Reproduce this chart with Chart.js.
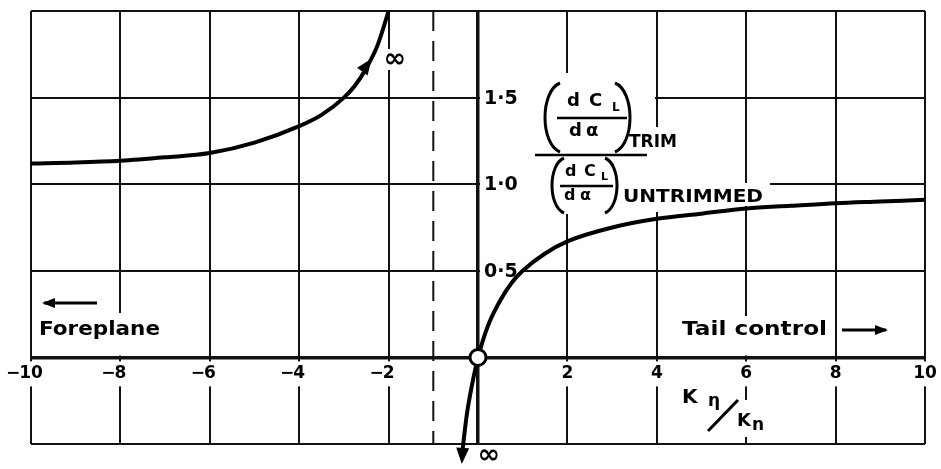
<!DOCTYPE html>
<html>
<head>
<meta charset="utf-8">
<script src="https://cdn.jsdelivr.net/npm/chart.js@4.4.1/dist/chart.umd.min.js"></script>
<style>
  html, body { margin: 0; padding: 0; background: #fff; }
  #wrap { width: 941px; height: 469px; }
</style>
</head>
<body>
<div id="wrap"><canvas id="c"></canvas></div>
<script>
// Axis ticks
const xTickValues = [-10, -8, -6, -4, -2, 0, 2, 4, 6, 8, 10];
const xTickLabels = ['−10', '−8', '−6', '−4', '−2', '', '2', '4', '6', '8', '10'];
const yTickValues = [0.5, 1.0, 1.5];
const yTickLabels = ['0·5', '1·0', '1·5'];

// Foreplane branch (K_eta/K_n below the asymptote)
const foreplaneK     = [-10, -9, -8, -7, -6, -5, -4, -3.5, -3, -2.75, -2.5, -2.25, -2];
const foreplaneRatio = [1.12, 1.125, 1.135, 1.155, 1.18, 1.24, 1.335, 1.4, 1.5, 1.57, 1.67, 1.8, 2.0];

// Tail-control branch (K_eta/K_n above the asymptote)
const tailK     = [-0.36, -0.33, -0.25, -0.15, 0, 0.1, 0.25, 0.5, 0.75, 1, 1.5, 2, 3, 4, 5, 6, 7, 8, 9, 10];
const tailRatio = [-0.57, -0.5, -0.33, -0.18, 0, 0.09, 0.2, 0.33, 0.43, 0.5, 0.6, 0.67, 0.75, 0.8, 0.83, 0.86, 0.875, 0.89, 0.9, 0.91];

// Vertical asymptote and the marked origin
const asymptoteK = -1;
const originPoint = { x: 0, y: 0 };

// Arrowheads on the curve ends (tail point -> tip point)
const curveArrows = [
  { from: [-2.63, 1.635], to: [-2.38, 1.725] },
  { from: [-0.335, -0.49], to: [-0.362, -0.615] }
];

const FONT = '"DejaVu Sans", "Liberation Sans", sans-serif';

function fitText(ctx, s, x, y, w, font) {
  ctx.save();
  ctx.font = font;
  ctx.textAlign = 'left';
  ctx.textBaseline = 'middle';
  const m = ctx.measureText(s).width;
  ctx.translate(x, y);
  ctx.scale(w / m, 1);
  ctx.fillText(s, 0, 0);
  ctx.restore();
}

function paren(ctx, xEdge, yTop, yBot, w, dir) {
  const x0 = xEdge - dir * w;
  const cx = xEdge + dir * w / 3;
  const h = yBot - yTop;
  ctx.beginPath();
  ctx.moveTo(x0, yTop);
  ctx.bezierCurveTo(cx, yTop + h * 0.12, cx, yBot - h * 0.12, x0, yBot);
  ctx.stroke();
}

function arrowHead(ctx, fx, fy, tx, ty, len, half) {
  const a = Math.atan2(ty - fy, tx - fx);
  const bx = tx - len * Math.cos(a), by = ty - len * Math.sin(a);
  ctx.beginPath();
  ctx.moveTo(tx, ty);
  ctx.lineTo(bx + half * Math.sin(a), by - half * Math.cos(a));
  ctx.lineTo(bx - half * Math.sin(a), by + half * Math.cos(a));
  ctx.closePath();
  ctx.fill();
}

function hArrow(ctx, x0, x1, y) {
  ctx.save();
  ctx.lineWidth = 3;
  ctx.beginPath();
  ctx.moveTo(x0, y);
  ctx.lineTo(x1, y);
  ctx.stroke();
  arrowHead(ctx, x0, y, x1 + (x1 > x0 ? 2 : -2), y, 13, 5);
  ctx.restore();
}

const annotations = {
  id: 'annotations',
  beforeDatasetsDraw(chart) {
    const ctx = chart.ctx;
    const xs = chart.scales.x, ys = chart.scales.y;
    const X = v => xs.getPixelForValue(v);
    const Y = v => ys.getPixelForValue(v);
    ctx.save();

    // dashed asymptote
    ctx.strokeStyle = '#111';
    ctx.lineWidth = 2;
    ctx.setLineDash([20, 10]);
    ctx.beginPath();
    ctx.moveTo(X(asymptoteK), Y(2));
    ctx.lineTo(X(asymptoteK), Y(-0.5));
    ctx.stroke();
    ctx.setLineDash([]);

    // white panels behind lettering
    ctx.fillStyle = '#fff';
    const x0 = X(0);
    ctx.fillRect(x0 + 2, 73, 655 - x0 - 2, 141);   // ratio label
    ctx.fillRect(625, 127, 744 - 625, 85);
    ctx.fillRect(620, 183, 150, 23);               // UNTRIMMED
    ctx.fillRect(36, 313, 126, Y(0) - 2 - 313);    // Foreplane
    ctx.fillRect(678, 316, 152, Y(0) - 2 - 316);   // Tail control
    ctx.fillRect(383, 49, 25, 21);                 // upper infinity
    ctx.fillRect(734, 400, 36, 37);                // K_n

    // x tick labels, sitting under the axis
    ctx.font = 'bold 17px ' + FONT;
    ctx.textBaseline = 'middle';
    const ty = Y(0) + 16;
    xTickValues.forEach((v, i) => {
      const lab = xTickLabels[i];
      if (!lab) return;
      const neg = lab.startsWith('−');
      const num = neg ? lab.slice(1) : lab;
      const cx = X(v);
      const nw = ctx.measureText(num).width;
      ctx.fillStyle = '#fff';
      ctx.fillRect(cx - nw / 2 - (neg ? 16 : 0) - 2, ty - 12, nw + (neg ? 16 : 0) + 4, 25);
      ctx.fillStyle = '#000';
      ctx.textAlign = 'center';
      ctx.fillText(num, cx, ty);
      if (neg) {
        ctx.textAlign = 'right';
        ctx.fillText('−', cx - nw / 2 + 1, ty);
      }
    });

    // y tick labels, to the right of the vertical axis
    ctx.font = 'bold 19px ' + FONT;
    ctx.textAlign = 'left';
    yTickValues.forEach((v, i) => {
      const w = ctx.measureText(yTickLabels[i]).width;
      ctx.fillStyle = '#fff';
      ctx.fillRect(x0 + 2, Y(v) - 9, w + 8, 19);
      ctx.fillStyle = '#000';
      ctx.fillText(yTickLabels[i], x0 + 6, Y(v) + 1);
    });

    // ratio label: (dCL/dα)TRIM over (dCL/dα)UNTRIMMED
    ctx.fillStyle = '#000';
    ctx.strokeStyle = '#000';
    ctx.lineWidth = 3;
    paren(ctx, 545, 83, 152, 15, -1);
    paren(ctx, 630, 83, 152, 15, 1);
    ctx.font = 'bold 18px ' + FONT;
    ctx.textBaseline = 'middle';
    ctx.fillText('d', 567, 101);
    ctx.fillText('C', 589, 101);
    ctx.font = 'bold 12px ' + FONT;
    ctx.fillText('L', 612, 108);
    ctx.lineWidth = 2.5;
    ctx.beginPath(); ctx.moveTo(557, 118); ctx.lineTo(627, 118); ctx.stroke();
    ctx.font = 'bold 18px ' + FONT;
    ctx.fillText('d', 569, 131);
    ctx.fillText('α', 586, 131);
    fitText(ctx, 'TRIM', 629, 143, 48, 'bold 17px ' + FONT);

    ctx.beginPath(); ctx.moveTo(535, 155); ctx.lineTo(647, 155); ctx.stroke();

    ctx.lineWidth = 3;
    paren(ctx, 552, 158, 213, 12, -1);
    paren(ctx, 617, 158, 213, 12, 1);
    ctx.font = 'bold 16px ' + FONT;
    ctx.fillText('d', 565, 172);
    ctx.fillText('C', 584, 172);
    ctx.font = 'bold 11px ' + FONT;
    ctx.fillText('L', 601, 177);
    ctx.lineWidth = 2.5;
    ctx.beginPath(); ctx.moveTo(560, 186); ctx.lineTo(613, 186); ctx.stroke();
    ctx.font = 'bold 16px ' + FONT;
    ctx.fillText('d', 564, 196);
    ctx.fillText('α', 580, 196);
    fitText(ctx, 'UNTRIMMED', 623, 198, 140, 'bold 17px ' + FONT);

    // direction notes
    fitText(ctx, 'Foreplane', 39, 330, 121, 'bold 20px ' + FONT);
    hArrow(ctx, 97, 44, 303);
    fitText(ctx, 'Tail control', 682, 330, 145, 'bold 20px ' + FONT);
    hArrow(ctx, 842, 886, 330);

    // infinity marks
    ctx.font = 'bold 27px ' + FONT;
    ctx.textAlign = 'center';
    ctx.fillText('∞', 395, 60);
    ctx.fillText('∞', 489, 456);

    // x axis title  K_eta / K_n
    ctx.textAlign = 'left';
    ctx.font = 'bold 20px ' + FONT;
    ctx.fillText('K', 682, 398);
    ctx.font = 'bold 17px ' + FONT;
    ctx.fillText('η', 708, 402);
    ctx.lineWidth = 3;
    ctx.beginPath(); ctx.moveTo(708, 431); ctx.lineTo(738, 400); ctx.stroke();
    ctx.font = 'bold 18px ' + FONT;
    ctx.fillText('K', 737, 421);
    ctx.font = 'bold 17px ' + FONT;
    ctx.fillText('n', 752, 426);

    ctx.restore();
  },
  afterDatasetsDraw(chart) {
    const ctx = chart.ctx;
    const xs = chart.scales.x, ys = chart.scales.y;
    ctx.save();
    ctx.fillStyle = '#000';
    curveArrows.forEach(a => {
      arrowHead(ctx,
        xs.getPixelForValue(a.from[0]), ys.getPixelForValue(a.from[1]),
        xs.getPixelForValue(a.to[0]), ys.getPixelForValue(a.to[1]), 16, 6.5);
    });
    ctx.restore();
  }
};

const gridWidth = c => (c.tick && c.tick.value === 0 ? 3.5 : 2);

new Chart(document.getElementById('c'), {
  type: 'scatter',
  data: {
    datasets: [
      {
        data: [originPoint],
        pointRadius: 8,
        pointBackgroundColor: '#fff',
        pointBorderColor: '#000',
        pointBorderWidth: 3,
        showLine: false
      },
      {
        data: foreplaneK.map((k, i) => ({ x: k, y: foreplaneRatio[i] })),
        showLine: true,
        borderColor: '#000',
        borderWidth: 4,
        pointRadius: 0,
        cubicInterpolationMode: 'monotone',
        clip: false
      },
      {
        data: tailK.map((k, i) => ({ x: k, y: tailRatio[i] })),
        showLine: true,
        borderColor: '#000',
        borderWidth: 4,
        pointRadius: 0,
        cubicInterpolationMode: 'monotone',
        clip: false
      }
    ]
  },
  options: {
    responsive: true,
    maintainAspectRatio: false,
    animation: false,
    events: [],
    layout: { padding: { left: 31, right: 16, top: 5, bottom: 25 } },
    plugins: { legend: { display: false }, tooltip: { enabled: false } },
    scales: {
      x: {
        type: 'linear', min: -10, max: 10,
        ticks: { display: false, stepSize: 2 },
        grid: { color: '#111', lineWidth: gridWidth, drawTicks: false },
        border: { display: false }
      },
      y: {
        type: 'linear', min: -0.5, max: 2,
        ticks: { display: false, stepSize: 0.5 },
        grid: { color: '#111', lineWidth: gridWidth, drawTicks: false },
        border: { display: false }
      }
    }
  },
  plugins: [annotations]
});
</script>
</body>
</html>
